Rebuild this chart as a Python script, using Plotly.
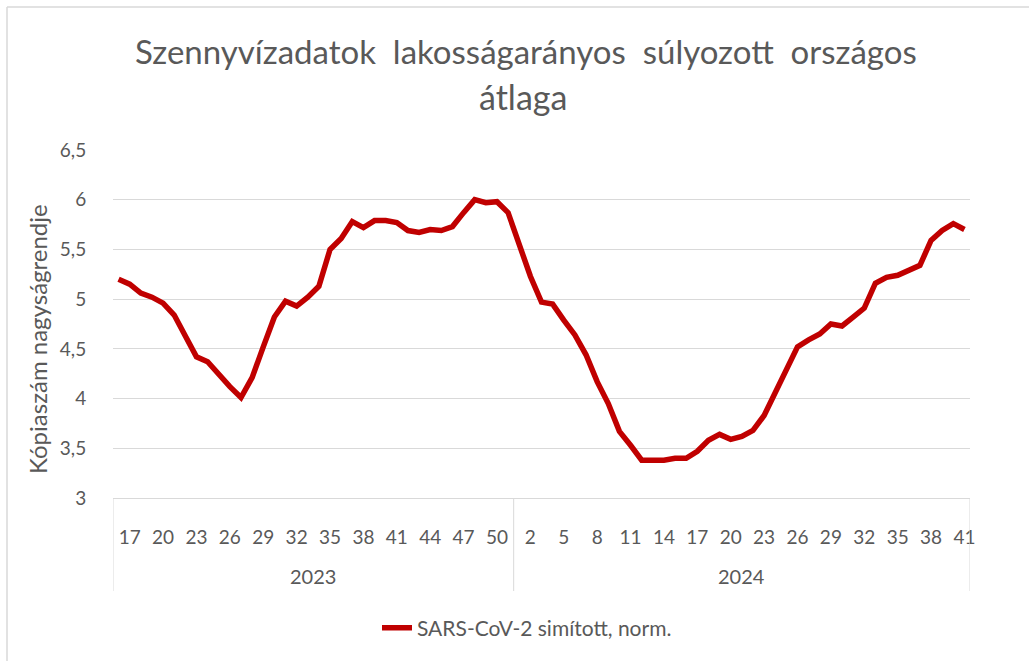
import plotly.graph_objects as go

# ---- data ----
years = ["2023", "2024"]
weeks_2023 = list(range(16, 52))
weeks_2024 = list(range(1, 42))
values_2023 = [5.20, 5.15, 5.06, 5.02, 4.96, 4.84, 4.63, 4.42, 4.37, 4.24,
               4.12, 4.01, 4.21, 4.52, 4.82, 4.98, 4.93, 5.02, 5.13, 5.50,
               5.61, 5.78, 5.72, 5.79, 5.79, 5.77, 5.69, 5.67, 5.70, 5.69,
               5.73, 5.87, 6.00, 5.97, 5.98, 5.87]
values_2024 = [5.55, 5.23, 4.97, 4.95, 4.79, 4.64, 4.44, 4.17, 3.95, 3.67,
               3.53, 3.38, 3.38, 3.38, 3.40, 3.40, 3.47, 3.58, 3.64, 3.59,
               3.62, 3.68, 3.83, 4.07, 4.30, 4.52, 4.59, 4.65, 4.75, 4.73,
               4.82, 4.91, 5.16, 5.22, 5.24, 5.29, 5.34, 5.59, 5.69, 5.76,
               5.70]
series_name = "SARS-CoV-2 simított, norm."
title_lines = ["Szennyvízadatok  lakosságarányos  súlyozott  országos", "átlaga"]
y_title = "Kópiaszám nagyságrendje"
y_ticks = [3, 3.5, 4, 4.5, 5, 5.5, 6, 6.5]

# ---- build ----
weeks = weeks_2023 + weeks_2024
values = values_2023 + values_2024
idx = list(range(len(weeks)))
tick_idx = idx[1::3]
tick_txt = [str(weeks[i]) for i in tick_idx]

W, H = 1029, 661
L, R, T, B = 113, 59, 150, 163
pw, ph = W - L - R, H - T - B
def px_x(p):
    return (p - L) / pw
def px_y(p):
    return (H - B - p) / ph

TXT = "#595959"
GRID = "#D9D9D9"
FONT = "Lato"

fig = go.Figure()
fig.add_trace(go.Scatter(
    x=idx, y=values, mode="lines", name=series_name,
    line=dict(color="#C00000", width=5.5, shape="linear"),
))

n23 = len(weeks_2023)
n_all = len(weeks)
shapes = []
axis_bottom = px_y(591)
for xv in [-0.5, n23 - 0.5, n_all - 0.5]:
    shapes.append(dict(type="line", xref="x", yref="paper", x0=xv, x1=xv,
                       y0=0, y1=axis_bottom, line=dict(color=GRID, width=1)))
# outer chart border (left + top visible)
shapes.append(dict(type="line", xref="paper", yref="paper",
                   x0=px_x(7), x1=px_x(7), y0=px_y(661), y1=px_y(7),
                   line=dict(color=GRID, width=1.5)))
shapes.append(dict(type="line", xref="paper", yref="paper",
                   x0=px_x(7), x1=px_x(1029), y0=px_y(7), y1=px_y(7),
                   line=dict(color=GRID, width=1.5)))

annotations = [
    dict(text=title_lines[0], xref="paper", yref="paper", x=px_x(526), y=px_y(51),
         showarrow=False, font=dict(family=FONT, size=33, color=TXT), xanchor="center", yanchor="middle"),
    dict(text=title_lines[1], xref="paper", yref="paper", x=px_x(523), y=px_y(96),
         showarrow=False, font=dict(family=FONT, size=34, color=TXT), xanchor="center", yanchor="middle"),
    dict(text=y_title, xref="paper", yref="paper", x=px_x(37), y=px_y(339),
         textangle=-90, showarrow=False, font=dict(family=FONT, size=24, color=TXT),
         xanchor="center", yanchor="middle"),
    dict(text=years[0], xref="x", yref="paper", x=(n23 - 1) / 2, y=px_y(576),
         showarrow=False, font=dict(family=FONT, size=20, color=TXT), xanchor="center", yanchor="middle"),
    dict(text=years[1], xref="x", yref="paper", x=n23 + (len(weeks_2024) - 1) / 2, y=px_y(576),
         showarrow=False, font=dict(family=FONT, size=20, color=TXT), xanchor="center", yanchor="middle"),
]

fig.update_layout(
    width=W, height=H,
    margin=dict(l=L, r=R, t=T, b=B, autoexpand=False),
    paper_bgcolor="white", plot_bgcolor="white",
    font=dict(family=FONT, color=TXT),
    showlegend=True,
    legend=dict(orientation="h", x=px_x(527), xanchor="center", xref="paper",
                y=px_y(628), yanchor="middle", font=dict(family=FONT, size=21, color=TXT),
                bgcolor="rgba(0,0,0,0)"),
    shapes=shapes,
    annotations=annotations,
    xaxis=dict(range=[-0.5, n_all - 0.5], tickmode="array", tickvals=tick_idx, ticktext=tick_txt,
               showgrid=False, zeroline=False, showline=True, linecolor=GRID, linewidth=1,
               ticks="outside", ticklen=22, tickcolor="rgba(0,0,0,0)",
               tickfont=dict(family=FONT, size=19, color=TXT)),
    yaxis=dict(range=[3, 6.5], tickmode="array", tickvals=y_ticks,
               ticktext=[("%g" % v).replace(".", ",") for v in y_ticks],
               showgrid=True, gridcolor=GRID, gridwidth=1, zeroline=False, showline=False,
               ticks="outside", ticklen=22, tickcolor="rgba(0,0,0,0)",
               tickfont=dict(family=FONT, size=19, color=TXT)),
)

fig.write_html("out.html", config={"displayModeBar": False},
               post_script="document.body.style.margin='0';document.body.style.overflow='hidden';")
